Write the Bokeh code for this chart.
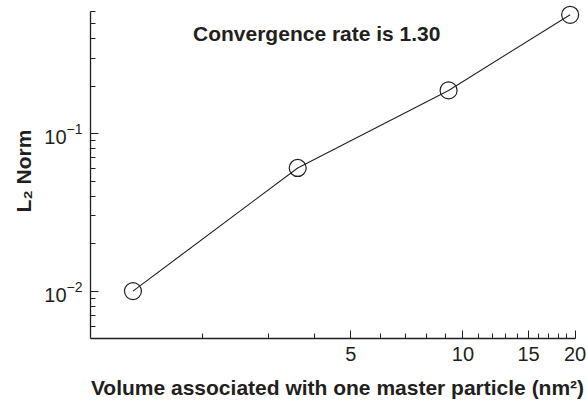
from bokeh.plotting import figure
from bokeh.models import FixedTicker, Label, BasicTickFormatter
from bokeh.embed import file_html
from bokeh.resources import INLINE

# Convergence study: L2 error norm against particle volume
volume = [1.30, 3.60, 9.15, 19.4]
l2_norm = [0.0100, 0.0605, 0.188, 0.568]

x_major = [5, 10, 15, 20]
x_minor = [2, 3, 4, 6, 7, 8, 9, 11, 12, 13, 14, 16, 17, 18, 19]
y_major = [0.01, 0.1]
y_minor = [0.006, 0.007, 0.008, 0.009,
           0.02, 0.03, 0.04, 0.05, 0.06, 0.07, 0.08, 0.09,
           0.2, 0.3, 0.4, 0.5, 0.6]

FONT = "Liberation Sans"
INK = "#231f20"

# ranges run a little past the axis bounds so the end markers are not clipped
p = figure(width=587, height=401, x_axis_type="log", y_axis_type="log",
           x_range=(1, 21.2), y_range=(0.005, 0.67),
           output_backend="svg", toolbar_location=None)
p.min_border_left = 90
p.min_border_right = 3
p.min_border_top = 3
p.min_border_bottom = 62
p.outline_line_color = None
p.xgrid.visible = False
p.ygrid.visible = False
p.background_fill_color = "white"
p.border_fill_color = "white"

p.line(volume, l2_norm, line_color=INK, line_width=1.1)
p.scatter(volume, l2_norm, marker="circle", size=17, fill_color=None,
          line_color=INK, line_width=1.2)

p.xaxis.ticker = FixedTicker(ticks=x_major, minor_ticks=x_minor)
p.xaxis.formatter = BasicTickFormatter()
p.xaxis.bounds = (1, 20)
p.yaxis.ticker = FixedTicker(ticks=y_major, minor_ticks=y_minor)
p.yaxis.bounds = (0.005, 0.6)

for ax in (p.xaxis[0], p.yaxis[0]):
    ax.axis_line_color = INK
    ax.axis_line_width = 1.3
    ax.major_tick_line_color = INK
    ax.minor_tick_line_color = INK
    ax.major_tick_in = 8
    ax.major_tick_out = 0
    ax.minor_tick_in = 5
    ax.minor_tick_out = 0
    ax.major_label_text_font = FONT
    ax.major_label_text_font_size = "20px"
    ax.major_label_text_color = INK
    ax.major_label_standoff = 8
    ax.axis_label_text_font = FONT
    ax.axis_label_text_font_size = "21px"
    ax.axis_label_text_font_style = "bold"
    ax.axis_label_text_color = INK

p.xaxis.axis_label = "Volume associated with one master particle (nm²)"
p.xaxis.axis_label_standoff = 12
p.yaxis.axis_label = "L₂ Norm"
p.yaxis.axis_label_standoff = 6

p.add_layout(Label(x=4.05, y=0.43, text="Convergence rate is 1.30",
                   text_font=FONT, text_font_size="21px",
                   text_font_style="bold", text_color=INK,
                   text_align="center", text_baseline="middle"))

open("out.html", "w").write(file_html(p, INLINE))
